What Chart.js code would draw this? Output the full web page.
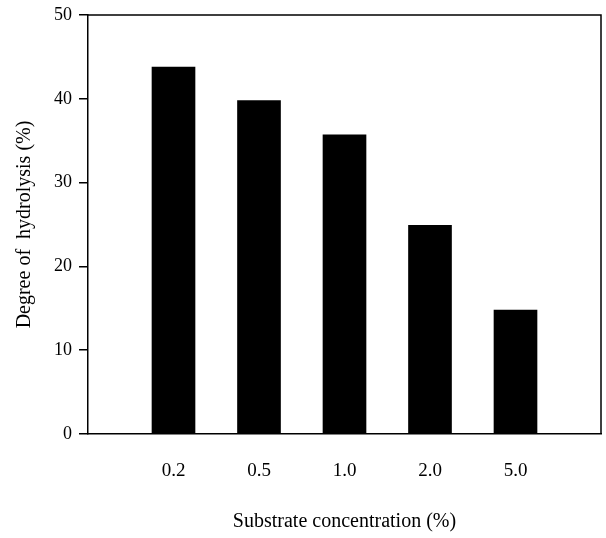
<!DOCTYPE html>
<html>
<head>
<meta charset="utf-8">
<script src="https://cdn.jsdelivr.net/npm/chart.js@4.4.1/dist/chart.umd.min.js"></script>
<style>
  html, body { margin: 0; padding: 0; background: #fff; }
  #wrap { width: 606px; height: 538px; }
</style>
</head>
<body>
<div id="wrap"><canvas id="hydrolysisChart"></canvas></div>
<script>
// Données
const concentrations = ['', '0.2', '0.5', '1.0', '2.0', '5.0', ''];
const degreeHydrolysis = [null, 43.8, 39.8, 35.7, 24.9, 14.8, null];
const yTicks = [0, 10, 20, 30, 40, 50];

const serif = '"Liberation Serif", "DejaVu Serif", serif';

// cadre du haut et de droite
const frameBox = {
    id: 'frameBox',
    afterDraw(chart) {
        const a = chart.chartArea;
        const ctx = chart.ctx;
        ctx.save();
        ctx.strokeStyle = '#000';
        ctx.lineWidth = 1.5;
        ctx.beginPath();
        ctx.moveTo(a.left, a.top);
        ctx.lineTo(a.right, a.top);
        ctx.lineTo(a.right, a.bottom);
        ctx.stroke();
        ctx.restore();
    }
};

const ctx = document.getElementById('hydrolysisChart').getContext('2d');
new Chart(ctx, {
    type: 'bar',
    data: {
        labels: concentrations,
        datasets: [{
            data: degreeHydrolysis,
            backgroundColor: '#000',
            borderWidth: 0,
            barThickness: 43
        }]
    },
    options: {
        responsive: true,
        maintainAspectRatio: false,
        animation: false,
        layout: { padding: { top: 15, right: 5, left: 0, bottom: 0 } },
        plugins: {
            legend: { display: false },
            tooltip: { enabled: false }
        },
        scales: {
            x: {
                offset: false,
                grid: { display: false },
                border: { display: true, color: '#000', width: 1.5 },
                ticks: {
                    color: '#000',
                    padding: 18,
                    maxRotation: 0,
                    autoSkip: false,
                    font: { family: serif, size: 19 }
                },
                title: {
                    display: true,
                    text: 'Substrate concentration (%)',
                    color: '#000',
                    font: { family: serif, size: 20 },
                    padding: { top: 0, bottom: 4 }
                },
                afterFit(scale) {
                    scale.height = 104;
                    scale.paddingLeft = 0;
                    scale.paddingRight = 0;
                }
            },
            y: {
                min: 0,
                max: 50,
                afterBuildTicks(scale) {
                    scale.ticks = yTicks.map(v => ({ value: v }));
                },
                grid: {
                    drawOnChartArea: false,
                    drawTicks: true,
                    tickLength: 9,
                    color: '#000',
                    lineWidth: 1.5
                },
                border: { display: true, color: '#000', width: 1.5 },
                ticks: {
                    color: '#000',
                    padding: 7,
                    font: { family: serif, size: 18 }
                },
                title: {
                    display: true,
                    text: 'Degree of  hydrolysis (%)',
                    color: '#000',
                    font: { family: serif, size: 20 },
                    padding: { top: 13, bottom: 0 }
                },
                afterFit(scale) {
                    scale.width = 88;
                    scale.paddingTop = 0;
                    scale.paddingBottom = 0;
                }
            }
        }
    },
    plugins: [frameBox]
});
</script>
</body>
</html>
